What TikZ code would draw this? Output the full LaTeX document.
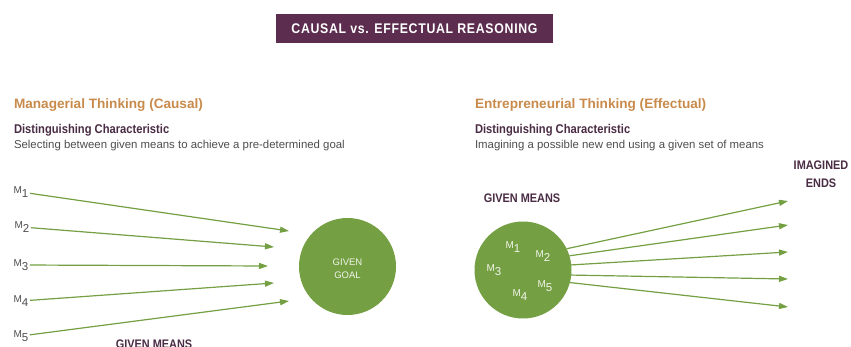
\documentclass[tikz,border=0pt]{standalone}
\usepackage{fontspec}
\setmainfont{Liberation Sans}
\newfontfamily\narrowsans[FakeStretch=0.88]{Liberation Sans}
\usetikzlibrary{arrows.meta,positioning}

\definecolor{plum}{HTML}{5C2D4E}
\definecolor{ochre}{HTML}{C98B4C}
\definecolor{darkplum}{HTML}{4A2C44}
\definecolor{textgray}{HTML}{4E4E4E}
\definecolor{leaf}{HTML}{74A043}
\definecolor{paleleaf}{HTML}{F2F4EA}

\newcommand{\mi}[1]{M\raisebox{-3.5pt}{\fontsize{11.5}{12}\selectfont #1}}

\begin{document}
\begin{tikzpicture}[x=1pt,y=-1pt,>={Triangle[length=9pt,width=6pt]},
  every node/.style={inner sep=0pt,outer sep=0pt},
  heading/.style={anchor=base west,text=ochre,font=\fontsize{13.6}{16}\selectfont\bfseries},
  subhead/.style={anchor=base west,text=darkplum,font=\narrowsans\fontsize{12.7}{14}\selectfont\bfseries},
  body/.style={anchor=base west,text=textgray,font=\fontsize{11.4}{13}\selectfont},
  caption/.style={anchor=base,text=darkplum,align=center,font=\narrowsans\fontsize{12.4}{18}\selectfont\bfseries},
  meanlbl/.style={text=textgray,font=\fontsize{10}{11}\selectfont,inner sep=1.5pt},
  inmean/.style={text=paleleaf,font=\fontsize{10}{11}\selectfont},
  blob/.style={circle,fill=leaf,minimum size=97pt},
  flow/.style={->,draw=leaf,line width=1.2pt}]
\useasboundingbox[fill=white] (0,0) rectangle (851,347);

\node (title) [fill=plum,minimum width=277pt,minimum height=29pt,text=white,
  font=\narrowsans\fontsize{14}{15}\selectfont\bfseries\addfontfeature{LetterSpace=5}] at (414.5,28.5)
  {CAUSAL vs. EFFECTUAL REASONING};

% causal side
\node (lhead) [heading] at (14,108.3) {Managerial Thinking (Causal)};
\node (lchar) [subhead,below=25pt of lhead.base west,anchor=base west] {Distinguishing Characteristic};
\node (ltext) [body,below=15pt of lchar.base west,anchor=base west] {Selecting between given means to achieve a pre-determined goal};

\node (m1) [meanlbl] at (21,192) {\mi{1}};
\node (m2) [meanlbl] at (22,227) {\mi{2}};
\node (m3) [meanlbl] at (21,265) {\mi{3}};
\node (m4) [meanlbl] at (21,301) {\mi{4}};
\node (m5) [meanlbl] at (21,336) {\mi{5}};
\coordinate (g1) at (289,231);
\coordinate (g2) at (274,247);
\coordinate (g3) at (268,266);
\coordinate (g4) at (274,283);
\coordinate (g5) at (289,301);
\foreach \i in {1,...,5} \draw[flow] (m\i) -- (g\i);

\node (goal) [blob] at (347.5,266.5) {};
\node [text=paleleaf,align=center,font=\fontsize{9.5}{12.5}\selectfont] at (347.5,268.5) {GIVEN\\GOAL};
\node (lmeans) [caption] at (154,348) {GIVEN MEANS};

% effectual side
\node (rhead) [heading] at (475,108.3) {Entrepreneurial Thinking (Effectual)};
\node (rchar) [subhead,below=25pt of rhead.base west,anchor=base west] {Distinguishing Characteristic};
\node (rtext) [body,below=15pt of rchar.base west,anchor=base west] {Imagining a possible new end using a given set of means};

\node (means) [blob] at (523,270) {};
\node (rmeans) [caption] at (522,203) {GIVEN MEANS};
\node (rm1) [inmean] at (513,247) {\mi{1}};
\node (rm2) [inmean] at (543,256) {\mi{2}};
\node (rm3) [inmean] at (494,270) {\mi{3}};
\node (rm4) [inmean] at (520,295) {\mi{4}};
\node (rm5) [inmean] at (545,286) {\mi{5}};

\coordinate (e1) at (788,201);
\coordinate (e2) at (788,225);
\coordinate (e3) at (788,252);
\coordinate (e4) at (788,279);
\coordinate (e5) at (788,307);
\draw[flow] (means.26) -- (e1);
\draw[flow] (means.17) -- (e2);
\draw[flow] (means.6) -- (e3);
\draw[flow] (means.-6) -- (e4);
\draw[flow] (means.-15) -- (e5);
\node (ends) [caption] at (821,188) {IMAGINED\\ENDS};
\end{tikzpicture}
\end{document}
